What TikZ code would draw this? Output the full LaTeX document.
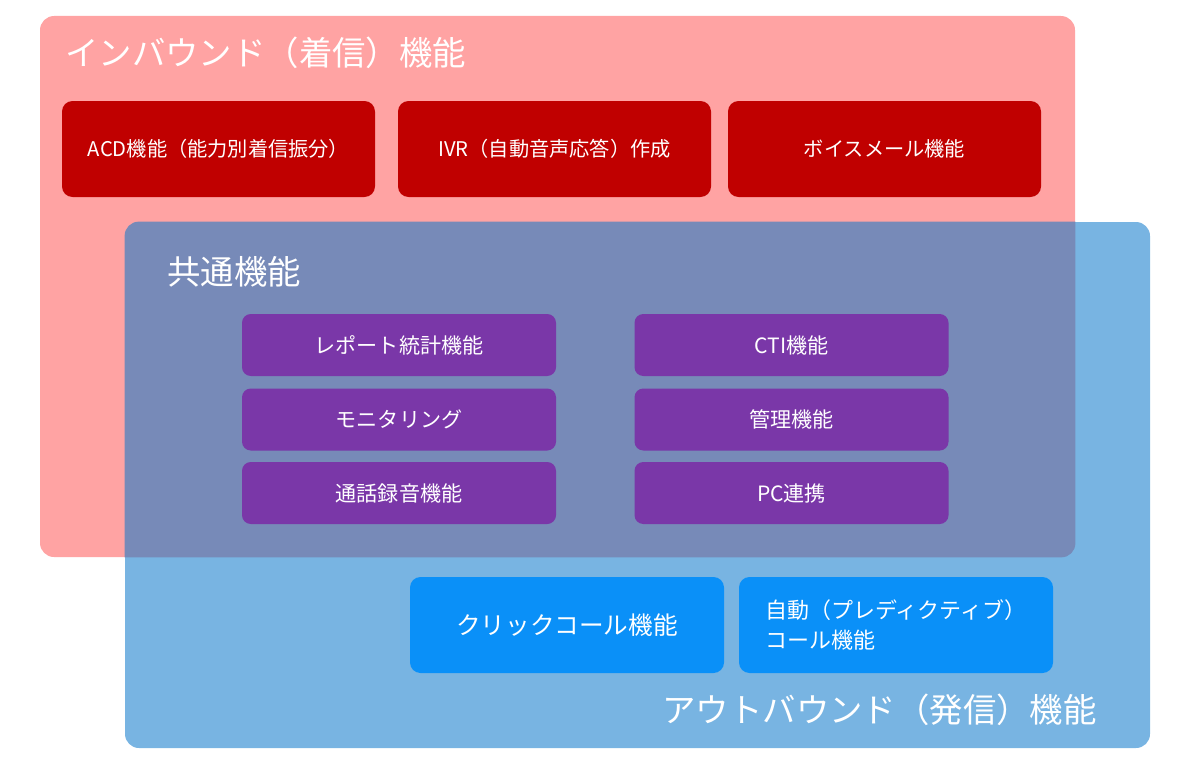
\documentclass[tikz,border=0pt]{standalone}
\usepackage{fontspec}
\setmainfont{Noto Sans CJK JP}

\definecolor{inpink}{HTML}{FFA3A3}
\definecolor{outblue}{HTML}{78B4E2}
\definecolor{overlap}{HTML}{778AB8}
\definecolor{inred}{HTML}{C00000}
\definecolor{compurple}{HTML}{7A37A8}
\definecolor{outbtn}{HTML}{0A90F8}

\begin{document}
\begin{tikzpicture}[
    area/.style={rounded corners=8pt, inner sep=0pt},
    title/.style={text=white, inner sep=0pt, font=\fontsize{19}{22}\selectfont},
    inbox/.style={fill=inred, rounded corners=6pt, text=white, minimum width=6.26cm, minimum height=1.92cm, font=\fontsize{11.5}{13}\selectfont},
    combox/.style={fill=compurple, rounded corners=5pt, text=white, minimum width=6.28cm, minimum height=1.24cm, font=\fontsize{12}{14}\selectfont},
    outbox/.style={fill=outbtn, rounded corners=6pt, text=white, minimum width=6.28cm, minimum height=1.92cm, align=left}
]

    \useasboundingbox (0, 0) rectangle (24, -15.24);

    % regions
    \node (in) at (11.15, -5.73) [area, fill=inpink, minimum width=20.7cm, minimum height=10.82cm] {};
    \node (out) at (12.75, -9.70) [area, fill=outblue, minimum width=20.5cm, minimum height=10.52cm] {};

    \begin{scope}
        \clip[rounded corners=8pt] (in.south west) rectangle (in.north east);
        \fill[overlap, rounded corners=8pt] (out.south west) rectangle (out.north east);
    \end{scope}

    \node (in-title) at (1.3, -1.06) [title, anchor=west] {インバウンド（着信）機能};
    \node (com-title) at (3.34, -5.44) [title, anchor=west] {共通機能};
    \node (out-title) at (21.94, -14.2) [title, anchor=east] {アウトバウンド（発信）機能};

    % inbound
    \node (in-1) at (4.37, -2.98) [inbox] {ACD機能（能力別着信振分）};
    \node (in-2) at (11.09, -2.98) [inbox] {IVR（自動音声応答）作成};
    \node (in-3) at (17.69, -2.98) [inbox] {ボイスメール機能};

    % common
    \node (com-1) at (7.98, -6.90) [combox] {レポート統計機能};
    \node (com-2) at (7.98, -8.39) [combox] {モニタリング};
    \node (com-3) at (7.98, -9.86) [combox] {通話録音機能};

    \node (com-4) at (15.83, -6.90) [combox] {CTI機能};
    \node (com-5) at (15.83, -8.39) [combox] {管理機能};
    \node (com-6) at (15.83, -9.86) [combox] {PC連携};

    % outbound
    \node (out-1) at (11.34, -12.5) [outbox, font=\fontsize{14}{17}\selectfont] {クリックコール機能};
    \node (out-2) at (17.92, -12.5) [outbox, font=\fontsize{12.5}{17}\selectfont] {自動（プレディクティブ）\\コール機能};

\end{tikzpicture}
\end{document}
